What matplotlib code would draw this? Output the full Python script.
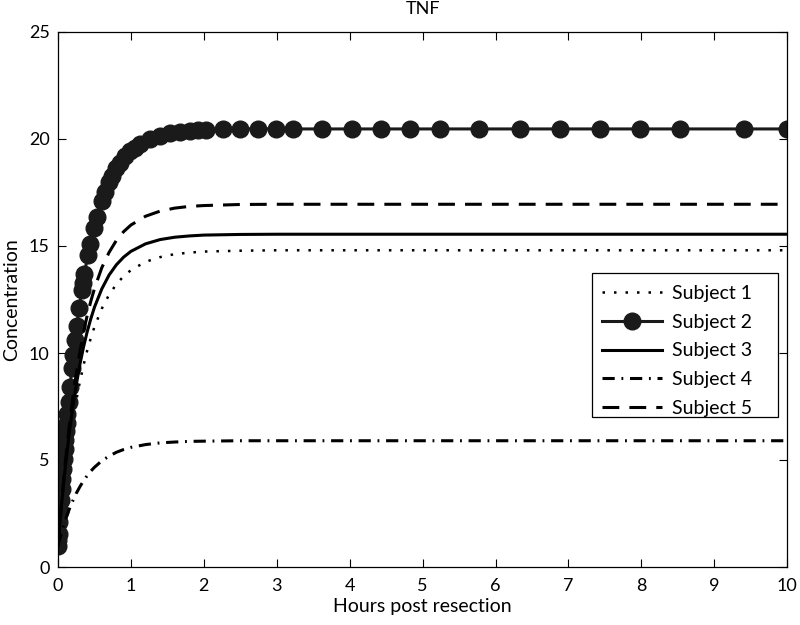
import matplotlib
matplotlib.use("Agg")
import matplotlib.pyplot as plt
from matplotlib.patches import Rectangle

plt.rcParams['font.family'] = ['Lato', 'DejaVu Sans']

title = "TNF"
xlabel = "Hours post resection"
ylabel = "Concentration"
labels = ["Subject 1", "Subject 2", "Subject 3", "Subject 4", "Subject 5"]

# Common time grid for smooth curves (hours)
t_curve = [0, 0.05, 0.1, 0.15, 0.2, 0.25, 0.3, 0.35, 0.4, 0.45, 0.5, 0.6, 0.7, 0.8,
           0.9, 1.0, 1.2, 1.4, 1.6, 1.8, 2.0, 2.5, 3, 4, 5, 6, 7, 8, 9, 10]

subject1 = [1.0, 2.74, 4.27, 5.6, 6.76, 7.77, 8.66, 9.43, 10.11, 10.7, 11.22, 12.07, 12.72, 13.21,
            13.59, 13.87, 14.26, 14.48, 14.62, 14.69, 14.74, 14.78, 14.8, 14.8, 14.8, 14.8, 14.8, 14.8, 14.8, 14.8]
subject3 = [1.0, 2.96, 4.67, 6.13, 7.4, 8.5, 9.46, 10.28, 10.99, 11.6, 12.14, 12.99, 13.64, 14.12,
            14.48, 14.75, 15.1, 15.3, 15.41, 15.47, 15.51, 15.54, 15.55, 15.55, 15.55, 15.55, 15.55, 15.55, 15.55, 15.55]
subject4 = [1.0, 1.63, 2.18, 2.66, 3.07, 3.44, 3.75, 4.03, 4.27, 4.48, 4.66, 4.96, 5.18, 5.36,
            5.49, 5.59, 5.72, 5.8, 5.84, 5.87, 5.88, 5.9, 5.9, 5.9, 5.9, 5.9, 5.9, 5.9, 5.9, 5.9]
subject5 = [1.0, 3.09, 4.89, 6.47, 7.84, 9.02, 10.06, 10.97, 11.75, 12.42, 13.01, 13.98, 14.7, 15.26,
            15.67, 15.98, 16.39, 16.63, 16.77, 16.85, 16.89, 16.94, 16.95, 16.95, 16.95, 16.95, 16.95, 16.95, 16.95, 16.95]

# Subject 2: solver output points (markers)
t_subject2 = [0, 0.005, 0.01, 0.02, 0.03, 0.04, 0.05, 0.06, 0.07, 0.08, 0.09, 0.10, 0.11, 0.12, 0.13,
              0.145, 0.165, 0.19, 0.21, 0.233, 0.257, 0.29, 0.325, 0.34, 0.36, 0.41, 0.44, 0.49, 0.53,
              0.60, 0.645, 0.70, 0.74, 0.80, 0.85, 0.92, 0.99, 1.05, 1.12, 1.26, 1.40, 1.54, 1.67, 1.81,
              1.92, 2.03, 2.26, 2.50, 2.74, 2.99, 3.22, 3.62, 4.03, 4.43, 4.83, 5.24, 5.78, 6.33, 6.88,
              7.43, 7.98, 8.53, 9.41, 10.0]
subject2 = [1.0, 1.28, 1.56, 2.1, 2.63, 3.14, 3.64, 4.13, 4.6, 5.05, 5.5, 5.93, 6.34, 6.75, 7.14,
            7.71, 8.43, 9.29, 9.92, 10.6, 11.26, 12.12, 12.93, 13.26, 13.67, 14.59, 15.09, 15.84, 16.35,
            17.11, 17.54, 17.99, 18.26, 18.63, 18.89, 19.2, 19.42, 19.6, 19.76, 20.0, 20.15, 20.27, 20.34, 20.39,
            20.42, 20.44, 20.46, 20.47, 20.47, 20.47, 20.47, 20.47, 20.47, 20.47, 20.47, 20.47, 20.47, 20.47, 20.47,
            20.47, 20.47, 20.47, 20.47, 20.47]

fig = plt.figure(figsize=(8, 6.25), dpi=100)
ax = fig.add_axes([0.0725, 0.0928, 0.9115, 0.856])

lw = 2.2
ax.plot(t_curve, subject1, color='black', lw=1.8, linestyle=(0, (1, 3.6)), label=labels[0])
ax.plot(t_subject2, subject2, color='#1a1a1a', lw=lw, marker='o', markersize=12,
        markerfacecolor='#1a1a1a', markeredgecolor='#1a1a1a', label=labels[1])
ax.plot(t_curve, subject3, color='black', lw=lw, linestyle='-', label=labels[2])
ax.plot(t_curve, subject4, color='black', lw=lw, linestyle=(0, (4, 2.2, 0.6, 2.2)), label=labels[3])
ax.plot(t_curve, subject5, color='black', lw=lw, linestyle=(0, (5.5, 3.3)), label=labels[4])

ax.set_xlim(0, 10)
ax.set_ylim(0, 25)
ax.set_xticks(range(0, 11))
ax.set_yticks([0, 5, 10, 15, 20, 25])
ax.tick_params(direction='in', top=True, right=True, length=6, width=0.8, labelsize=13)
ax.tick_params(axis='x', pad=8)
ax.tick_params(axis='y', pad=6)
for s in ax.spines.values():
    s.set_linewidth(0.9)

ax.set_title(title, fontsize=13, pad=13)
ax.set_xlabel(xlabel, fontsize=14, labelpad=3)
ax.set_ylabel(ylabel, fontsize=14, labelpad=6)

# Legend (MATLAB style: extra space on the right inside the box)
box = Rectangle((0.7325, 0.2804), 0.2552, 0.2691, transform=ax.transAxes,
                facecolor='white', edgecolor='black', lw=0.9, zorder=4)
ax.add_patch(box)
leg = ax.legend(loc='upper left', bbox_to_anchor=(0.746, 0.527), fontsize=14,
                handlelength=3.1, labelspacing=0.6, frameon=False,
                borderpad=0, borderaxespad=0, handletextpad=0.5)
leg.set_zorder(5)

fig.savefig("out.png", dpi=100)
